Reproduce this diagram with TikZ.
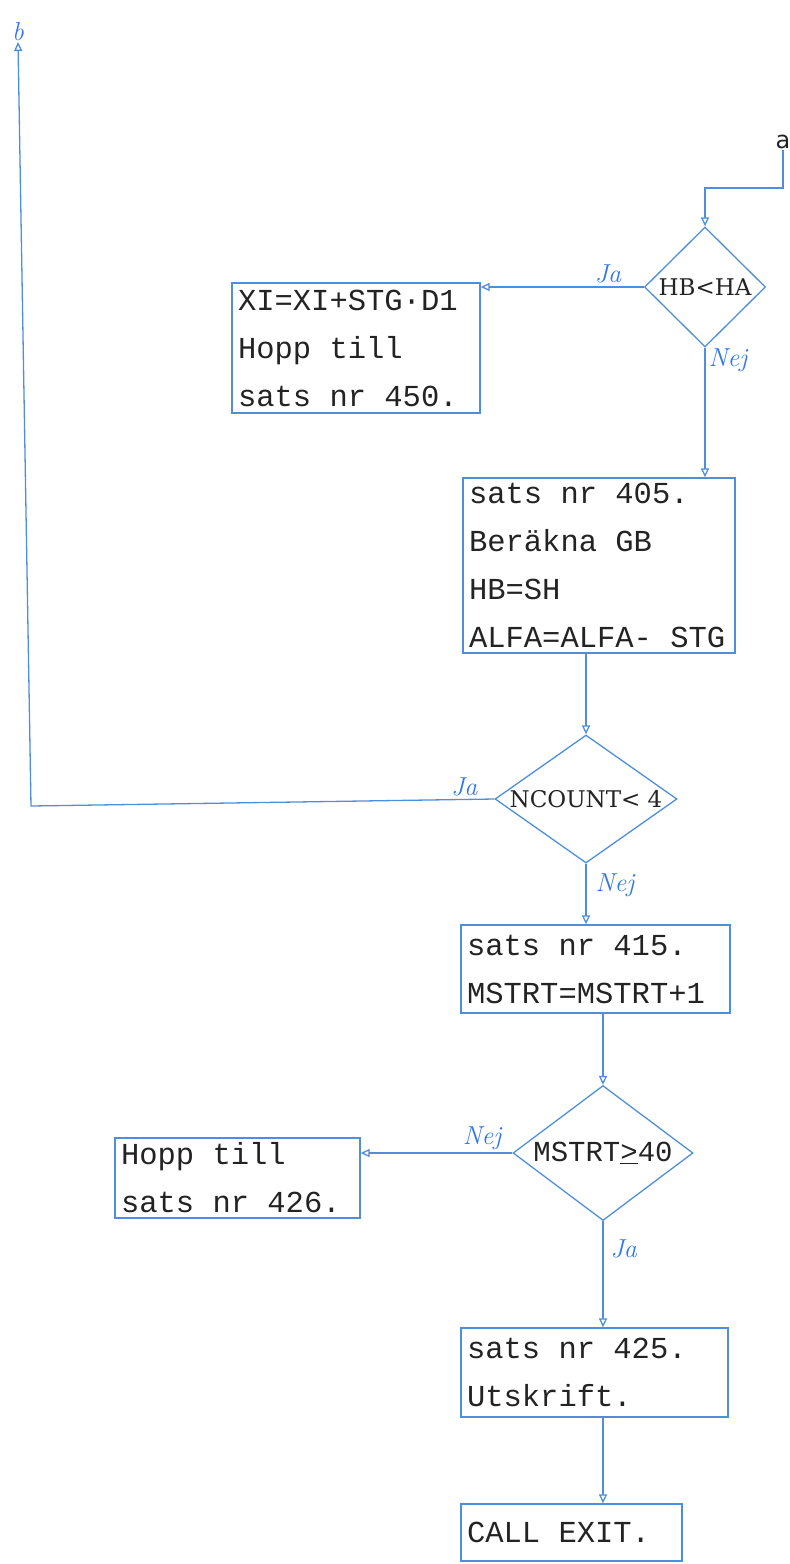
\documentclass[tikz,border=0pt]{standalone}
\usepackage{fontspec}
\newfontfamily\typewr{Liberation Mono}
\newfontfamily\decserif{DejaVu Serif}
\newfontfamily\plainsans{DejaVu Sans}
\usepackage{tikz}
\usetikzlibrary{arrows.meta,positioning,shapes.geometric,calc}
\definecolor{flowblue}{RGB}{78,142,222}
\definecolor{penblue}{RGB}{48,118,236}
\definecolor{inkblack}{RGB}{35,35,35}
\DeclareRobustCommand\boxfont{\typewr\fontsize{30.5}{48}\selectfont}
\DeclareRobustCommand\wordgap{\spaceskip=0.6em\relax\xspaceskip=0.6em\relax}

\tikzset{
  procbox/.style={draw=flowblue, line width=1.3pt, rectangle, align=left, inner xsep=6pt, inner ysep=0pt, text=inkblack, font=\boxfont, execute at begin node=\wordgap},
  decision/.style={draw=flowblue, line width=1.3pt, diamond, inner sep=0pt, text=inkblack},
  flow/.style={draw=flowblue, line width=1.3pt, -{Triangle[open, length=9pt, width=8pt]}},
  hand/.style={text=penblue, font=\itshape\fontsize{26}{26}\selectfont, inner sep=3pt},
}

\begin{document}
\begin{tikzpicture}[x=1pt,y=-1pt]
  \useasboundingbox (0,0) rectangle (790,1564);

  %% Decisions
  \node[decision, aspect=1, minimum width=121pt, minimum height=120pt, font=\decserif\fontsize{23}{23}\selectfont] (hbha) at (705,287) {HB<HA};
  \node[decision, aspect=1.42, minimum width=182pt, minimum height=128pt, font=\decserif\fontsize{23}{23}\selectfont] (ncount) at (586,799) {NCOUNT< 4};
  \node[decision, aspect=1.33, minimum width=180pt, minimum height=135pt, font=\typewr\fontsize{29}{29}\selectfont] (mstrt) at (603,1153) {MSTRT\underline{>}40};

  %% Statements
  \node[procbox, text width=236pt, minimum height=130pt] (hopp450) at (356,348) {XI=XI+STG·D1\\Hopp till\\sats nr 450.};
  \node[procbox, text width=260pt, minimum height=175pt] (sats405) at (599,565.5) {sats nr 405.\\Beräkna GB\\HB=SH\\ALFA=ALFA- STG};
  \node[procbox, text width=257pt, minimum height=88pt] (sats415) at (595.5,969) {sats nr 415.\\MSTRT=MSTRT+1};
  \node[procbox, text width=233pt, minimum height=80pt] (hopp426) at (237.5,1178) {Hopp till\\sats nr 426.};
  \node[procbox, text width=255pt, minimum height=89pt] (sats425) at (594.5,1372.5) {sats nr 425.\\Utskrift.};
  \node[procbox, text width=209pt, minimum height=57pt] (callexit) at (571.5,1532.5) {CALL EXIT.};

  %% Entry a and exit b
  \coordinate (atop) at (783,150);
  \coordinate (acorner) at (705,188);
  \coordinate (bbend) at (31,806);
  \coordinate (btop) at (18,42);
  \node[font=\plainsans\fontsize{24}{24}\selectfont, text=inkblack, above, inner sep=1pt] (alabel) at (atop) {a};
  \node[hand, above, inner sep=1pt] (blabel) at (btop) {b};
  \draw[flow] (atop) |- (acorner) -- (hbha.north);

  %% Connectors
  \draw[flow] (hbha.west) -- (hbha.west -| hopp450.east) node[hand, above, pos=0.22] (ja1) {Ja};
  \draw[flow] (hbha.south) -- (hbha.south |- sats405.north) node[hand, right, pos=0.1] (nej1) {Nej};
  \draw[flow] (ncount.north |- sats405.south) -- (ncount.north);
  \draw[flow] (ncount.west) -- (bbend) -- (btop);
  \node[hand, above] (ja2) at ($(ncount.west)!0.065!(bbend)$) {Ja};
  \draw[flow] (ncount.south) -- (ncount.south |- sats415.north) node[hand, right, pos=0.35, xshift=6pt] (nej2) {Nej};
  \draw[flow] (mstrt.north |- sats415.south) -- (mstrt.north);
  \draw[flow] (mstrt.west) -- (mstrt.west -| hopp426.east) node[hand, above, pos=0.2] (nej3) {Nej};
  \draw[flow] (mstrt.south) -- (mstrt.south |- sats425.north) node[hand, right, pos=0.26, xshift=4pt] (ja3) {Ja};
  \draw[flow] (mstrt.south |- sats425.south) -- (mstrt.south |- callexit.north);
\end{tikzpicture}
\end{document}
